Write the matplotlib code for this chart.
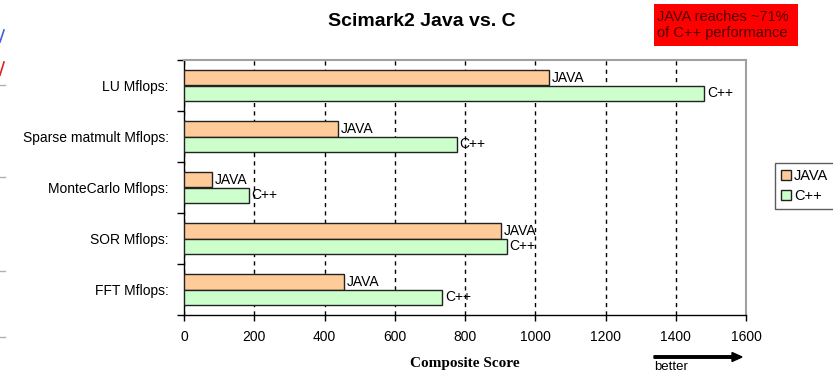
import numpy as np
import matplotlib
matplotlib.use("Agg")
import matplotlib.pyplot as plt
from matplotlib.patches import Rectangle, FancyArrow
from matplotlib.lines import Line2D

plt.rcParams['font.family'] = ['Liberation Sans', 'DejaVu Sans']

# data (top to bottom)
benchmarks = ['LU Mflops:', 'Sparse matmult Mflops:', 'MonteCarlo Mflops:',
              'SOR Mflops:', 'FFT Mflops:']
java = [1039, 439, 79, 902, 456]
cpp = [1481, 776, 184, 919, 735]
xticks = [0, 200, 400, 600, 800, 1000, 1200, 1400, 1600]

W, H = 833, 373
fig = plt.figure(figsize=(W / 100, H / 100), dpi=100)

# title first
fig.text(422 / W, 1 - 21 / H, 'Scimark2 Java vs. C', ha='center', va='center',
         fontsize=14, fontweight='bold', family='Liberation Sans')

ax = fig.add_axes([184 / W, 1 - 315 / H, (746 - 184) / W, (315 - 60) / H])

y = np.arange(len(benchmarks))
h = 0.295
ax.barh(y - h / 2, java, height=h, color='#FFCC99', edgecolor='#222222',
        linewidth=1, label='JAVA', zorder=3)
ax.barh(y + h / 2, cpp, height=h, color='#CCFFCC', edgecolor='#222222',
        linewidth=1, label='C++', zorder=3)

for yi, v in zip(y, java):
    ax.text(v + 8, yi - h / 2, 'JAVA', va='center', ha='left', fontsize=10, zorder=4)
for yi, v in zip(y, cpp):
    ax.text(v + 8, yi + h / 2, 'C++', va='center', ha='left', fontsize=10, zorder=4)

ax.set_xlim(0, 1600)
ax.set_ylim(len(benchmarks) - 0.5, -0.5)
ax.set_xticks(xticks)
ax.tick_params(axis='x', direction='out', length=4, width=1, pad=7, labelsize=10)

ax.set_yticks(y)
ax.set_yticklabels(benchmarks, fontsize=10)
ax.tick_params(axis='y', which='major', length=0, pad=11)
ax.set_yticks(np.arange(len(benchmarks) + 1) - 0.5, minor=True)
ax.tick_params(axis='y', which='minor', direction='out', length=5, width=1)

ax.grid(axis='x', linestyle=(0, (3, 3)), color='black', linewidth=1, zorder=0)
for s in ['top', 'right']:
    ax.spines[s].set_color('#A0A0A0')
    ax.spines[s].set_linewidth(1.5)
for s in ['left', 'bottom']:
    ax.spines[s].set_color('black')
    ax.spines[s].set_linewidth(1)

ax.set_xlabel('Composite Score', fontsize=11, fontweight='bold',
              family='Liberation Serif', labelpad=9)

# red note box
fig.patches.append(Rectangle((654 / W, 1 - 46 / H), 144 / W, 42 / H,
                             transform=fig.transFigure, facecolor='#FF0000',
                             edgecolor='none'))
fig.text(657 / W, 1 - 25 / H, 'JAVA reaches ~71%\nof C++ performance',
         ha='left', va='center', fontsize=10.5, color='#500000', linespacing=1.2)

fig.legend(loc='upper left', bbox_to_anchor=(775 / W, 1 - 163 / H),
           fontsize=10.5, frameon=True, fancybox=False, edgecolor='#333333',
           handlelength=0.7, handleheight=0.7, handletextpad=0.2,
           borderpad=0.4, labelspacing=0.45, borderaxespad=0)

# "better" arrow
fig.patches.append(FancyArrow(
    654 / W, 1 - 357 / H, 78 / W, 0, width=2.5 / H, head_width=9 / H,
    head_length=10 / W, length_includes_head=False, color='black',
    transform=fig.transFigure))
fig.text(654 / W, 1 - 367 / H, 'better', ha='left', va='center', fontsize=9.5)

# leftover screenshot marks on the left edge
for yy in [85, 177, 271, 337]:
    fig.lines.append(Line2D([0, 5 / W], [1 - yy / H] * 2, color='#B0B0B0',
                            linewidth=1, transform=fig.transFigure))
fig.lines.append(Line2D([0, 4 / W], [1 - 42 / H, 1 - 30 / H], color='#4060E0',
                        linewidth=1.2, transform=fig.transFigure))
fig.lines.append(Line2D([0, 4 / W], [1 - 75 / H, 1 - 62 / H], color='#E02020',
                        linewidth=1.2, transform=fig.transFigure))

fig.savefig('out.png', dpi=100)
